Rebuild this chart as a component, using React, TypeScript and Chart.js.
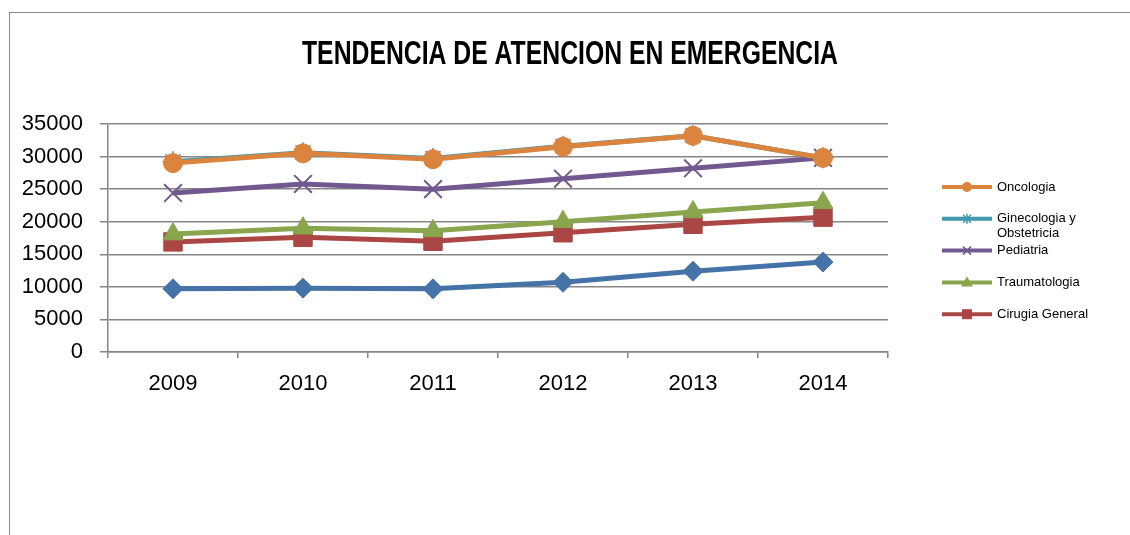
import React, { useEffect, useRef } from "react";
import { Chart, registerables } from "chart.js";

Chart.register(...registerables);

const years = ["2009", "2010", "2011", "2012", "2013", "2014"];
const oncologia = [29000, 30500, 29600, 31500, 33200, 29800];
const ginecologia = [29200, 30600, 29700, 31600, 33200, 29800];
const pediatria = [24400, 25800, 25000, 26600, 28200, 29800];
const traumatologia = [18100, 19000, 18600, 20000, 21500, 22900];
const cirugia = [16900, 17600, 17000, 18300, 19600, 20700];
const medicina = [9700, 9800, 9700, 10700, 12400, 13800];
const yTicks = [0, 5000, 10000, 15000, 20000, 25000, 30000, 35000];
const titleText = "TENDENCIA DE ATENCION EN EMERGENCIA";
const legendCount = 5;

const FONT = "'Liberation Sans', Arial, sans-serif";
const GRID = "#868686";

const titlePlugin = {
  id: "titleDraw",
  afterDraw(chart: any) {
    const ctx = chart.ctx;
    ctx.save();
    ctx.strokeStyle = "#8a8a8a";
    ctx.lineWidth = 1;
    ctx.strokeRect(9.5, 12.5, 3000, 3000);
    ctx.font = `bold 33px ${FONT}`;
    ctx.fillStyle = "#000";
    ctx.textBaseline = "middle";
    ctx.textAlign = "left";
    const w = ctx.measureText(titleText).width;
    const target = 536;
    const sx = target / w;
    ctx.translate(570 - target / 2, 55);
    ctx.scale(sx, 1);
    ctx.fillText(titleText, 0, 0);
    ctx.restore();
  },
};

function drawMarker(ctx: any, style: string, x: number, y: number, color: string) {
  ctx.save();
  ctx.fillStyle = color;
  ctx.strokeStyle = color;
  ctx.lineWidth = 1.5;
  ctx.beginPath();
  const r = 5;
  if (style === "circle") {
    ctx.arc(x, y, r, 0, Math.PI * 2);
    ctx.fill();
  } else if (style === "rect") {
    ctx.rect(x - r, y - r, 2 * r, 2 * r);
    ctx.fill();
  } else if (style === "triangle") {
    ctx.moveTo(x, y - r - 1);
    ctx.lineTo(x + r + 1, y + r - 1);
    ctx.lineTo(x - r - 1, y + r - 1);
    ctx.closePath();
    ctx.fill();
  } else if (style === "crossRot") {
    ctx.moveTo(x - 4, y - 4);
    ctx.lineTo(x + 4, y + 4);
    ctx.moveTo(x + 4, y - 4);
    ctx.lineTo(x - 4, y + 4);
    ctx.stroke();
  } else if (style === "star") {
    ctx.moveTo(x - 4, y - 4);
    ctx.lineTo(x + 4, y + 4);
    ctx.moveTo(x + 4, y - 4);
    ctx.lineTo(x - 4, y + 4);
    ctx.moveTo(x, y - 5);
    ctx.lineTo(x, y + 5);
    ctx.stroke();
  } else if (style === "rectRot") {
    ctx.moveTo(x, y - r);
    ctx.lineTo(x + r, y);
    ctx.lineTo(x, y + r);
    ctx.lineTo(x - r, y);
    ctx.closePath();
    ctx.fill();
  }
  ctx.restore();
}

const legendPlugin = {
  id: "customLegend",
  afterDraw(chart: any) {
    const ctx = chart.ctx;
    const ds = chart.data.datasets;
    ctx.save();
    ctx.font = `13px ${FONT}`;
    ctx.textBaseline = "middle";
    ctx.textAlign = "left";
    for (let i = 0; i < Math.min(legendCount, ds.length); i++) {
      const d = ds[i];
      const y = 187 + i * 31.8;
      ctx.strokeStyle = d.borderColor;
      ctx.lineWidth = 4;
      ctx.beginPath();
      ctx.moveTo(942, y);
      ctx.lineTo(992, y);
      ctx.stroke();
      drawMarker(ctx, d.pointStyle, 967, y, d.borderColor);
      const words = String(d.label).split(" ");
      const lines: string[] = [];
      let cur = "";
      for (const wd of words) {
        const test = cur ? cur + " " + wd : wd;
        if (ctx.measureText(test).width > 100 && cur) {
          lines.push(cur);
          cur = wd;
        } else cur = test;
      }
      if (cur) lines.push(cur);
      ctx.fillStyle = "#000";
      lines.forEach((ln, k) => ctx.fillText(ln, 997, y + k * 15));
    }
    ctx.restore();
  },
};

export default function App() {
  const ref = useRef<HTMLCanvasElement | null>(null);
  useEffect(() => {
    if (!ref.current) return;
    const mk = (label: string, data: number[], color: string, style: string, radius: number, bw: number) => ({
      label,
      data,
      borderColor: color,
      backgroundColor: color,
      borderWidth: 5,
      pointStyle: style,
      pointRadius: radius,
      pointHoverRadius: radius,
      pointBackgroundColor: color,
      pointBorderColor: color,
      pointBorderWidth: bw,
      tension: 0,
      fill: false,
    });
    const chart = new Chart(ref.current, {
      type: "line",
      data: {
        labels: years,
        datasets: [
          mk("Oncologia", oncologia, "#DB843D", "circle", 9.5, 1),
          mk("Ginecologia y Obstetricia", ginecologia, "#4198AF", "star", 10.5, 1.5),
          mk("Pediatria", pediatria, "#71588F", "crossRot", 12.5, 2),
          mk("Traumatologia", traumatologia, "#89A54E", "triangle", 11.5, 1),
          mk("Cirugia General", cirugia, "#AA4643", "rect", 13, 1),
          mk("Medicina", medicina, "#4572A7", "rectRot", 10, 1),
        ],
      },
      options: {
        responsive: false,
        animation: false,
        events: [],
        layout: { padding: { top: 124, right: 242, left: 0, bottom: 0 } },
        plugins: {
          legend: { display: false },
          title: { display: false },
          tooltip: { enabled: false },
        },
        scales: {
          x: {
            offset: true,
            grid: {
              offset: true,
              drawOnChartArea: false,
              drawTicks: true,
              tickLength: 6,
              color: GRID,
              lineWidth: 1.5,
            },
            border: { display: true, color: GRID, width: 1.5 },
            ticks: {
              color: "#000",
              font: { family: FONT, size: 22 },
              padding: 13,
            },
            afterFit: (s: any) => {
              s.height = 535 - 352;
            },
          },
          y: {
            min: 0,
            max: 35000,
            afterBuildTicks: (s: any) => {
              s.ticks = yTicks.map((v) => ({ value: v }));
            },
            grid: {
              color: GRID,
              lineWidth: 1.5,
              drawTicks: true,
              tickLength: 8,
            },
            border: { display: true, color: GRID, width: 1.5 },
            ticks: {
              color: "#000",
              font: { family: FONT, size: 22 },
              padding: 17,
              autoSkip: false,
              callback: (v: any) => String(v),
            },
            afterFit: (s: any) => {
              s.width = 108;
            },
          },
        },
      },
      plugins: [titlePlugin, legendPlugin],
    });
    return () => chart.destroy();
  }, []);
  return (
    <div style={{ position: "fixed", left: 0, top: 0, width: 1130, height: 535, background: "#fff" }}>
      <canvas ref={ref} width={1130} height={535} style={{ display: "block" }} />
    </div>
  );
}
